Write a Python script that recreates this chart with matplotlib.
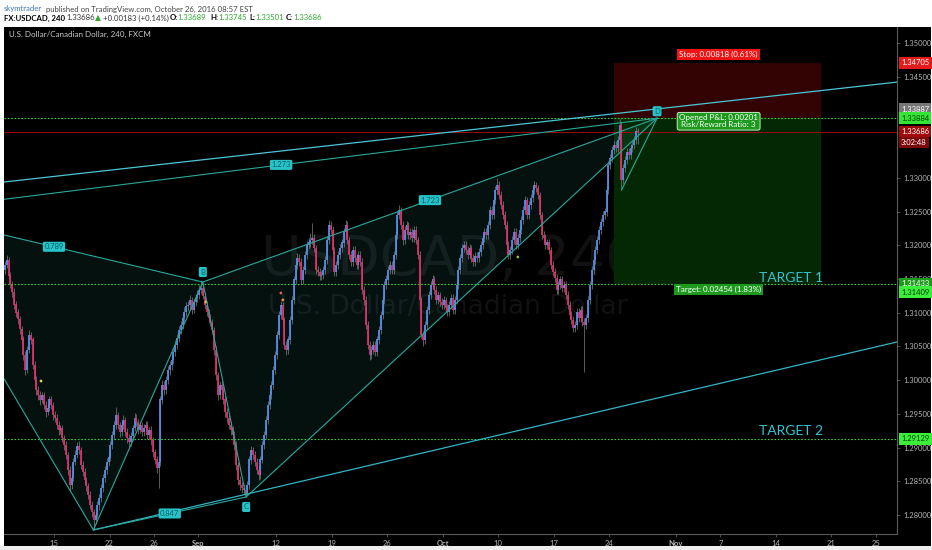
import numpy as np
import matplotlib
matplotlib.use("Agg")
import matplotlib.pyplot as plt
from matplotlib.patches import Rectangle, Polygon

plt.rcParams['font.family'] = ['Lato', 'DejaVu Sans']

# USDCAD 4h bars, six per trading day, prices in pips above 1.2800
# day index counts trading days from Mon Aug 15 2016; data starts Mon Aug 8
BASE = 1.28
FIRST_DAY = -5
first_open = 350
close_pips = [
    356, 360, 363, 371, 378, 355,
    341, 330, 312, 300, 290, 276,
    260, 237, 215, 245, 267, 260,
    222, 200, 185, 178, 171, 178,
    163, 153, 159, 171, 163, 148,
    144, 133, 126, 129, 114, 104,   # Aug 15
    89, 67, 44, 55, 79, 89,
    102, 96, 74, 64, 52, 43,
    30, 15, 4, -7, 0, 15,
    25, 40, 55, 67, 79, 85,
    104, 119, 133, 148, 133, 123,   # Aug 22
    133, 141, 123, 114, 108, 117,
    129, 144, 138, 126, 133, 123,
    129, 133, 119, 126, 111, 93,
    82, 70, 79, 171, 193, 185,
    200, 215, 222, 230, 242, 252,   # Aug 29
    262, 274, 282, 292, 301, 310,
    311, 319, 304, 316, 322, 326,
    334, 337, 325, 311, 301, 292,
    286, 274, 245, 207, 178, 193,
    185, 171, 153, 144, 133, 126,   # Sep 5
    119, 104, 74, 52, 44, 40,
    37, 33, 44, 82, 96, 89,
    79, 67, 59, 82, 104, 119,
    141, 163, 178, 193, 215, 237,
    267, 297, 311, 289, 252, 245,   # Sep 12
    260, 289, 319, 349, 371, 381,
    375, 349, 363, 386, 400, 404,
    408, 411, 396, 363, 360, 354,
    356, 363, 378, 408, 430, 423,
    393, 360, 371, 386, 396, 404,   # Sep 19
    420, 430, 408, 386, 375, 393,
    381, 371, 386, 375, 334, 319,
    282, 252, 237, 245, 252, 242,
    260, 274, 297, 319, 341, 349,
    363, 371, 363, 386, 415, 445,   # Sep 26
    452, 430, 408, 423, 430, 415,
    420, 411, 423, 408, 386, 319,
    267, 260, 282, 304, 326, 341,
    349, 334, 319, 326, 316, 311,
    319, 307, 301, 311, 322, 304,   # Oct 3
    319, 341, 363, 381, 396, 400,
    393, 386, 396, 381, 375, 384,
    381, 390, 400, 411, 420, 415,
    430, 452, 445, 467, 482, 489,
    474, 460, 445, 430, 400, 386,   # Oct 10
    393, 408, 420, 400, 411, 423,
    437, 452, 467, 445, 460, 470,
    482, 489, 485, 474, 445, 415,
    411, 400, 404, 393, 371, 360,
    351, 334, 341, 349, 337, 341,   # Oct 17
    326, 311, 297, 289, 277, 282,
    301, 292, 304, 286, 282, 292,
    319, 341, 363, 378, 393, 408,
    423, 434, 445, 450, 482, 519,
    529, 541, 549, 544, 556, 578,   # Oct 24
    497, 515, 526, 538, 534, 544,
    549, 556, 569, 568.6,
]
high_pips = [
    362, 365, 368, 376, 386, 382,
    360, 347, 336, 318, 306, 295,
    281, 266, 243, 250, 274, 272,
    264, 228, 206, 192, 184, 183,
    183, 169, 164, 177, 176, 168,
    154, 150, 139, 134, 134, 119,
    109, 94, 72, 60, 84, 96,
    108, 110, 101, 80, 69, 57,
    48, 36, 21, 9, 5, 20,
    31, 46, 61, 73, 85, 92,
    110, 125, 139, 160, 153, 138,
    139, 148, 146, 129, 120, 123,
    134, 151, 150, 143, 139, 138,
    135, 140, 139, 131, 132, 116,
    98, 88, 85, 176, 200, 198,
    206, 221, 229, 237, 248, 259,
    268, 280, 288, 298, 308, 316,
    317, 326, 324, 321, 328, 333,
    341, 349, 342, 330, 316, 306,
    298, 291, 279, 250, 212, 199,
    199, 191, 177, 159, 150, 139,
    132, 125, 109, 79, 58, 49,
    46, 43, 50, 88, 102, 101,
    95, 84, 72, 88, 110, 125,
    147, 169, 184, 199, 221, 243,
    273, 303, 318, 316, 294, 258,
    266, 295, 325, 355, 377, 388,
    387, 381, 369, 392, 406, 411,
    418, 433, 417, 401, 369, 366,
    362, 369, 384, 414, 437, 436,
    428, 398, 377, 392, 402, 410,
    426, 437, 436, 413, 392, 399,
    399, 387, 392, 392, 381, 340,
    325, 288, 258, 251, 258, 258,
    266, 280, 303, 325, 347, 356,
    369, 377, 376, 392, 421, 451,
    460, 457, 436, 429, 436, 435,
    426, 426, 429, 428, 413, 391,
    324, 273, 288, 310, 332, 347,
    356, 355, 340, 332, 331, 322,
    325, 324, 313, 317, 328, 327,
    325, 347, 369, 387, 402, 407,
    406, 399, 402, 401, 387, 390,
    390, 396, 406, 417, 426, 425,
    436, 458, 458, 473, 488, 500,
    495, 480, 466, 451, 436, 406,
    399, 414, 426, 425, 417, 429,
    443, 458, 473, 472, 466, 476,
    488, 495, 494, 490, 479, 450,
    421, 417, 410, 410, 398, 377,
    366, 357, 347, 355, 355, 347,
    347, 332, 317, 303, 295, 288,
    307, 307, 310, 310, 292, 298,
    325, 347, 369, 384, 399, 414,
    429, 440, 451, 456, 488, 525,
    535, 547, 555, 554, 562, 587,
    583, 521, 532, 544, 544, 550,
    555, 562, 575, 574.5,
]
low_pips = [
    344, 351, 355, 358, 366, 350,
    336, 324, 305, 294, 283, 268,
    253, 230, 207, 210, 240, 254,
    216, 193, 178, 170, 163, 166,
    157, 146, 148, 154, 157, 141,
    138, 127, 119, 120, 108, 97,
    83, 60, 36, 39, 50, 74,
    84, 90, 68, 58, 46, 36,
    24, 9, -3, -22, -14, -5,
    8, 19, 34, 49, 61, 73,
    80, 98, 112, 127, 127, 116,
    117, 127, 117, 107, 101, 103,
    111, 124, 132, 120, 121, 117,
    117, 123, 113, 113, 104, 86,
    75, 62, 40, 72, 165, 178,
    179, 194, 208, 215, 224, 236,
    246, 256, 268, 276, 286, 295,
    303, 305, 298, 299, 310, 316,
    320, 328, 320, 305, 295, 285,
    280, 268, 238, 200, 170, 172,
    178, 165, 146, 137, 127, 119,
    113, 97, 67, 45, 37, 33,
    31, 27, 29, 39, 76, 83,
    73, 61, 52, 54, 77, 98,
    113, 135, 157, 172, 187, 209,
    231, 261, 291, 283, 246, 238,
    239, 254, 283, 313, 343, 365,
    369, 343, 343, 357, 380, 394,
    398, 402, 390, 357, 354, 348,
    348, 350, 357, 372, 402, 417,
    387, 354, 354, 365, 380, 390,
    398, 414, 402, 380, 369, 369,
    375, 365, 365, 369, 328, 312,
    276, 246, 230, 231, 239, 236,
    236, 254, 268, 291, 313, 335,
    343, 357, 357, 357, 380, 409,
    439, 424, 401, 402, 417, 409,
    409, 405, 405, 402, 380, 312,
    262, 250, 254, 276, 298, 320,
    335, 328, 313, 313, 310, 305,
    305, 301, 295, 295, 305, 298,
    298, 313, 335, 357, 375, 390,
    387, 380, 380, 375, 369, 369,
    375, 375, 384, 394, 405, 409,
    409, 424, 439, 439, 461, 476,
    468, 454, 439, 424, 394, 380,
    380, 387, 402, 394, 394, 405,
    417, 431, 446, 439, 439, 454,
    464, 476, 479, 468, 439, 409,
    405, 394, 394, 387, 365, 354,
    345, 328, 328, 335, 331, 331,
    320, 305, 291, 283, 271, 271,
    276, 286, 286, 280, 212, 276,
    286, 313, 335, 357, 372, 387,
    402, 417, 428, 439, 444, 476,
    513, 523, 535, 538, 538, 550,
    482, 491, 509, 520, 528, 528,
    538, 543, 550, 550.1,
]

# date axis
tick_days = [0, 5, 9, 13, 20, 25, 30, 35, 40, 45, 50, 56, 60, 65, 70, 74]
tick_labels = ['15', '22', '26', 'Sep', '12', '19', '26', 'Oct', '10', '17',
               '24', 'Nov', '7', '14', '21', '25']

# price scale (1.34000 and 1.33500 sit under the price tags)
price_ticks = [1.28, 1.285, 1.29, 1.295, 1.30, 1.305, 1.31, 1.315,
               1.32, 1.325, 1.33, 1.345, 1.35]

# levels
entry = 1.33884
stop = 1.34705
target1 = 1.31433
target2 = 1.29129
last_price = 1.33686
position_days = [50.4, 69.1]

# XABCD pattern points
pat_names = ['X', 'A', 'B', 'C', 'D']
pat_days = [-13.4, 3.55, 13.4, 17.3, 54.3]
pat_prices = [1.3250, 1.27778, 1.31455, 1.28267, 1.33884]
ratio_texts = ['0.789', '0.847', '1.723', '1.273']
ratio_pairs = [(0, 2), (1, 3), (2, 4), (0, 4)]
mini_leg_days = [51.1, 54.3]
mini_leg_prices = [1.3282, 1.33884]

# trend lines
upper_days = [-4.5, 75.9]
upper_prices = [1.32938, 1.3442]
lower_days = [3.55, 75.9]
lower_prices = [1.27778, 1.30566]

# indicator dots
dot_days = [-1.17, 13.68, 20.43, 20.6, 41.76]
dot_prices = [1.29987, 1.31159, 1.31292, 1.31189, 1.31826]
dot_colors = ['#e8d44d', '#e8d44d', '#e8605a', '#f0904a', '#8bc34a']

# right scale tags
tag_prices = [1.34705, 1.33887, 1.33884, 1.33686, 1.33686, 1.31433, 1.31409, 1.29129]
tag_texts = ['1.34705', '1.33887', '1.33884', '1.33686', '3:02:48', '1.31433', '1.31409', '1.29129']
tag_face = ['#e31b1b', '#777777', '#33e633', '#a00c0c', '#7d0a0a', '#1c9a1c', '#3aee3a', '#3aee3a']
tag_fg = ['white', 'white', '#074007', 'white', 'white', 'white', '#074007', '#074007']
tag_shift = [0, 9, 0, 0, -11, 0, -7, 0]

W, H = 932, 550
fig = plt.figure(figsize=(W / 100, H / 100), dpi=100, facecolor='white')


def px(x, y):
    return x / W, 1 - y / H


fig.patches.append(Rectangle((4 / W, 1 - 546 / H), 927 / W, 519 / H,
                             transform=fig.transFigure, facecolor='black',
                             edgecolor='none', zorder=-2))
fig.patches.append(Rectangle((0, 0), 1, 1 - 546 / H, transform=fig.transFigure,
                             facecolor='#eeeeee', edgecolor='none', zorder=-2))

ax = fig.add_axes([4 / W, 1 - 534 / H, 893 / W, 507 / H])
ax.set_facecolor('black')

n = len(close_pips)
closes = BASE + np.array(close_pips) / 1e4
highs = BASE + np.array(high_pips) / 1e4
lows = BASE + np.array(low_pips) / 1e4
opens = np.concatenate([[BASE + first_open / 1e4], closes[:-1]])
xs = FIRST_DAY + (np.arange(n) + 0.5) / 6

# watermark
ax.text(0.5006, 0.540, 'USDCAD, 240', transform=ax.transAxes, ha='center', va='center',
        fontsize=40, color='#111111', family='DejaVu Sans', zorder=0)
ax.text(0.497, 0.448, 'U.S. Dollar/Canadian Dollar', transform=ax.transAxes, ha='center',
        va='center', fontsize=19, color='#111111', family='DejaVu Sans', zorder=0)

# position tool zones
ax.add_patch(Rectangle((position_days[0], entry), position_days[1] - position_days[0],
                       stop - entry, facecolor='#330303', edgecolor='none', zorder=0.5))
ax.add_patch(Rectangle((position_days[0], target1), position_days[1] - position_days[0],
                       entry - target1, facecolor='#042804', edgecolor='none', zorder=0.5))

# pattern fills
teal = '#2aa89c'
ax.add_patch(Polygon([(pat_days[i], pat_prices[i]) for i in (0, 1, 2)], closed=True,
                     facecolor=teal, alpha=0.1, edgecolor='none', zorder=0.6))
ax.add_patch(Polygon([(pat_days[i], pat_prices[i]) for i in (2, 3, 4)], closed=True,
                     facecolor=teal, alpha=0.1, edgecolor='none', zorder=0.6))

# horizontal levels
for lvl in (entry, target1, target2):
    ax.axhline(lvl, color='#3ccc3c', lw=0.8, ls=(0, (1.5, 1.5)), zorder=1)
ax.axhline(last_price, color='#9a0c0c', lw=0.7, zorder=1)

# candles
up = closes >= opens
body_lo = np.minimum(opens, closes)
body_hi = np.maximum(opens, closes)
ax.vlines(xs, lows, highs, color='#808080', lw=0.5, zorder=2)
ax.vlines(xs[up], body_lo[up], body_hi[up] + 0.00003, color='#5593ee', lw=1.25, zorder=3)
ax.vlines(xs[~up], body_lo[~up], body_hi[~up] + 0.00003, color='#e8306c', lw=1.25, zorder=3)

ax.scatter(dot_days, dot_prices, s=4, c=dot_colors, zorder=4, linewidths=0)

# trend lines
ax.axline((upper_days[0], upper_prices[0]), (upper_days[1], upper_prices[1]),
          color='#4cc6d6', lw=0.9, zorder=4)
ax.plot(lower_days, lower_prices, color='#33b3c4', lw=0.9, zorder=4)

# pattern lines
ax.plot(pat_days, pat_prices, color=teal, lw=0.8, zorder=4)
for (i, j), txt in zip(ratio_pairs, ratio_texts):
    ax.plot([pat_days[i], pat_days[j]], [pat_prices[i], pat_prices[j]],
            color=teal, lw=0.8, zorder=4)
    ax.text((pat_days[i] + pat_days[j]) / 2, (pat_prices[i] + pat_prices[j]) / 2, txt,
            ha='center', va='center', fontsize=5.5, color='#0b5e66', zorder=6,
            bbox=dict(boxstyle='round,pad=0.2', fc='#27c3c9', ec='none'))
ax.plot(mini_leg_days, mini_leg_prices, color=teal, lw=0.8, zorder=4)
for k, dy in ((2, 10), (3, -10), (4, 7)):
    ax.annotate(pat_names[k], (pat_days[k], pat_prices[k]), xytext=(0, dy),
                textcoords='offset pixels', ha='center', va='center', fontsize=5.5,
                color='#0b5e66', zorder=6,
                bbox=dict(boxstyle='round,pad=0.2', fc='#27c3c9', ec='none'))

# position labels
mid = (position_days[0] + position_days[1]) / 2
ax.annotate('Stop: 0.00818 (0.61%)', (mid, stop), xytext=(1, 8), textcoords='offset pixels',
            ha='center', va='center', fontsize=5.8, color='white', zorder=7,
            bbox=dict(boxstyle='square,pad=0.25', fc='#f01414', ec='none'))
ax.annotate('Opened P&L: 0.00201\nRisk/Reward Ratio: 3', (mid, entry), xytext=(1, -3),
            textcoords='offset pixels', ha='center', va='center', fontsize=5.8,
            color='white', linespacing=0.95, zorder=7,
            bbox=dict(boxstyle='round,pad=0.25', fc='#1d9a1d', ec='#e0ffe0', lw=0.6))
ax.annotate('Target: 0.02454 (1.83%)', (mid, target1), xytext=(1, -6),
            textcoords='offset pixels', ha='center', va='center', fontsize=5.8,
            color='white', zorder=7,
            bbox=dict(boxstyle='square,pad=0.25', fc='#1d9a1d', ec='none'))
ax.annotate('TARGET 1', (66.4, target1), xytext=(0, 6), textcoords='offset pixels',
            ha='center', va='center', fontsize=10, color='#35c4d4', zorder=7)
ax.annotate('TARGET 2', (66.4, target2), xytext=(0, 8), textcoords='offset pixels',
            ha='center', va='center', fontsize=10, color='#35c4d4', zorder=7)

# axes
ax.set_xlim(-4.5, 75.9)
ax.set_ylim(1.27718, 1.35237)
ax.set_xticks(tick_days)
ax.set_xticklabels(tick_labels)
for lab in ax.get_xticklabels():
    if not lab.get_text().isdigit():
        lab.set_fontweight('bold')
ax.yaxis.tick_right()
ax.set_yticks(price_ticks)
ax.set_yticklabels(['%.5f' % v for v in price_ticks])
ax.tick_params(colors='#6a6a6a', labelcolor='#b4b4b4', labelsize=5.5, length=2.5,
               width=0.5, pad=2)
for side in ('left', 'top'):
    ax.spines[side].set_visible(False)
for side in ('right', 'bottom'):
    ax.spines[side].set_color('#5a5a5a')
    ax.spines[side].set_linewidth(0.8)

for p, t, fc, fg, dy in zip(tag_prices, tag_texts, tag_face, tag_fg, tag_shift):
    ax.annotate(t, (1.0, p), xycoords=('axes fraction', 'data'), xytext=(4, dy),
                textcoords='offset pixels', ha='left', va='center', fontsize=5.5,
                color=fg, zorder=10, annotation_clip=False,
                bbox=dict(boxstyle='square,pad=0.3', fc=fc, ec='none'))

# header
fs = 5.6
fig.text(*px(4, 9), 'skymtrader', color='#3a78b8', fontsize=fs, va='center')
fig.text(*px(46, 9), 'published on TradingView.com, October 26, 2016 08:57 EST',
         color='#444444', fontsize=fs, va='center')
green = '#2ea82e'
pieces = [(4, 'FX:USDCAD, 240', 'black', 'bold'), (66, '1.33686', '#333333', 'normal'),
          (95, '\u25b2', green, 'normal'), (103, '+0.00183 (+0.14%)', '#333333', 'normal'),
          (170, 'O:', 'black', 'bold'), (177, '1.33689', green, 'normal'),
          (210, 'H:', 'black', 'bold'), (218, '1.33745', green, 'normal'),
          (249, 'L:', 'black', 'bold'), (255, '1.33501', green, 'normal'),
          (286, 'C:', 'black', 'bold'), (293, '1.33686', green, 'normal')]
for x, t, c, w in pieces:
    fig.text(*px(x, 18), t, color=c, fontsize=fs, fontweight=w, va='center')
fig.text(*px(9, 34), 'U.S. Dollar/Canadian Dollar, 240, FXCM', color='#c8c8c8',
         fontsize=5.8, va='center')

fig.savefig('out.png', dpi=100, facecolor=fig.get_facecolor())
